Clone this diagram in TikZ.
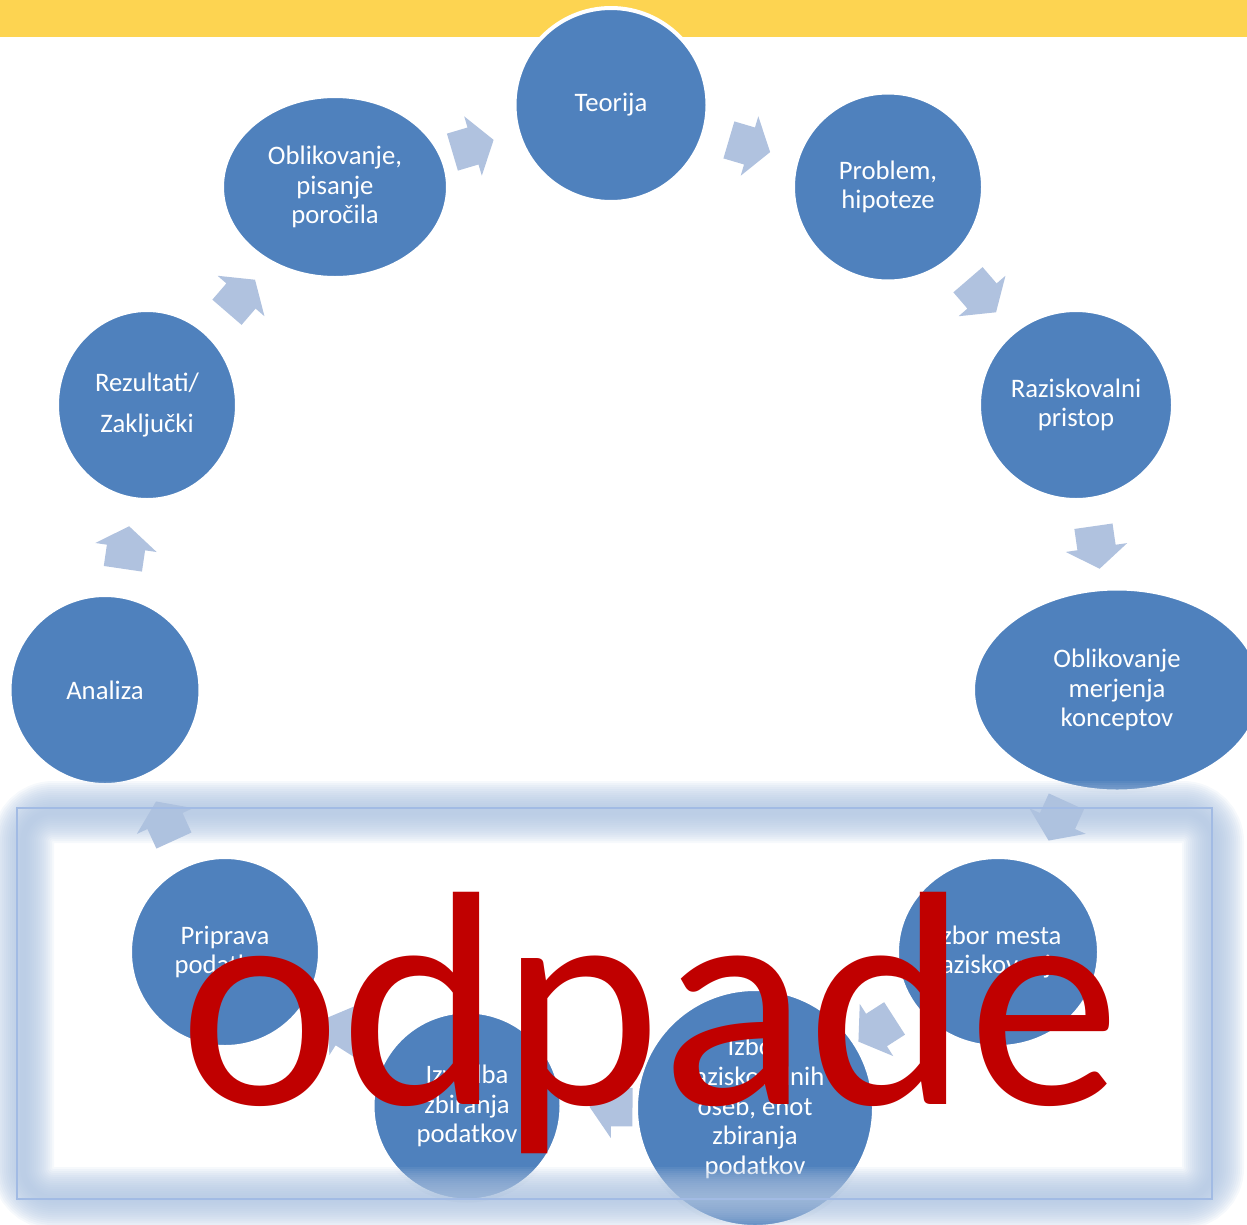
\documentclass[tikz,border=0pt]{standalone}
\usepackage{fontspec}
\setmainfont{Carlito}
\usetikzlibrary{shapes.geometric,calc}
\definecolor{barY}{HTML}{FDD451}
\definecolor{nodeB}{HTML}{4F81BD}
\definecolor{arrB}{HTML}{B0C2DF}
\definecolor{glowB}{HTML}{AEC4E1}
\definecolor{lineB}{HTML}{A2BBE4}
\definecolor{redT}{HTML}{C00000}
% block arrow between two named nodes, placed at their midpoint
\newcommand\cycarrow[2]{%
  \fill[arrB] let \p1=(#1.center), \p2=(#2.center), \p3=($(#1.center)!0.5!(#2.center)$),
     \n1={atan2(\y2-\y1,\x2-\x1)} in
    ($(\p3)+(\n1+180:0.43cm)+(\n1+90:0.386cm)$) --
    ($(\p3)+(\n1+90:0.386cm)$) --
    ($(\p3)+(\n1+90:0.62cm)$) --
    ($(\p3)+(\n1:0.43cm)$) --
    ($(\p3)+(\n1-90:0.62cm)$) --
    ($(\p3)+(\n1-90:0.386cm)$) --
    ($(\p3)+(\n1+180:0.43cm)+(\n1-90:0.386cm)$) -- cycle;}
\begin{document}
\begin{tikzpicture}[x=0.02cm,y=-0.02cm,
  stage/.style={ellipse, fill=nodeB, draw=white, line width=0.08cm, inner sep=0pt,
     text=white, align=center, font=\fontsize{15.2}{16.9}\selectfont},
  dims/.style 2 args={minimum width=#1*0.02cm, minimum height=#2*0.02cm}]
\useasboundingbox (0,0) rectangle (1247,1224);
\fill[barY] (0,0) rectangle (1247,37);

\node[stage, dims={193}{194}] (teo)  at (611,105)  {Teorija};
\node[stage, dims={190}{189}] (prob) at (888,187)  {Problem,\\hipoteze};
\node[stage, dims={194}{190}] (razp) at (1076,405) {Raziskovalni\\pristop};
\node[stage, dims={288}{203}] (omk)  at (1117,690) {Oblikovanje\\merjenja\\konceptov};
\node[stage, dims={202}{190}] (izm)  at (998,952)  {Izbor mesta\\raziskovanja};
\node[stage, dims={238}{238}] (izro) at (755,1108) {Izbor\\raziskovalnih\\oseb, enot\\zbiranja\\podatkov};
\node[stage, dims={189}{189}] (izv)  at (467,1106) {Izvedba\\zbiranja\\podatkov};
\node[stage, dims={190}{190}] (prip) at (225,952)  {Priprava\\podatkov};
\node[stage, dims={191}{190}] (ana)  at (105,690)  {Analiza};
\node[stage, dims={180}{190}] (rez)  at (147,405)  {Rezultati/\\[6.5pt]Zaključki};
\node[stage, dims={226}{182}] (opp)  at (335,187)  {Oblikovanje,\\pisanje\\poročila};

\cycarrow{opp}{teo}
\cycarrow{teo}{prob}
\cycarrow{prob}{razp}
\cycarrow{razp}{omk}
\cycarrow{omk}{izm}
\cycarrow{izm}{izro}
\cycarrow{izro}{izv}
\cycarrow{izv}{prip}
\cycarrow{prip}{ana}
\cycarrow{ana}{rez}
\cycarrow{rez}{opp}

% soft glowing frame
\foreach \w in {62,58,...,6}
  \draw[glowB, opacity=0.11, line width=\w*0.02cm, rounded corners=0.6cm] (23,812) rectangle (1213,1198);
\draw[lineB, line width=0.04cm] (17,808) rectangle (1212,1199);

\node[anchor=base west, inner sep=0pt, text=redT, font=\fontsize{174}{174}\selectfont] (odp) at (179,1104) {odpade};
\end{tikzpicture}
\end{document}
